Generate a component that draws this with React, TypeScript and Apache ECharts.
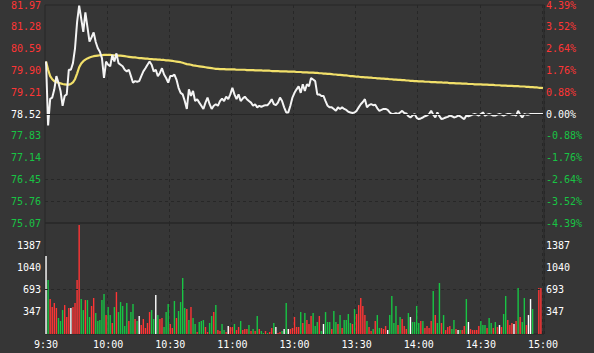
import React, { useEffect, useRef } from "react";
import * as echarts from "echarts";

const prevClose = 78.52;
const priceTicks = [75.07, 75.76, 76.45, 77.14, 77.83, 78.52, 79.21, 79.9, 80.59, 81.28, 81.97];
const pctTicks = [-4.39, -3.52, -2.64, -1.76, -0.88, 0, 0.88, 1.76, 2.64, 3.52, 4.39];
const volTicks = [347, 693, 1040, 1387];
const xTickLabels = ["9:30", "10:00", "10:30", "11:00", "13:00", "13:30", "14:00", "14:30", "15:00"];
const dashedPriceLevels = [76.45, 75.76];
const dashedVolLevels = [693];

const price = [
  80.18, 78.16, 79.0, 79.04, 79.3, 79.72, 79.51, 79.25, 78.78, 79.09,
  79.14, 79.92, 79.92, 80.13, 80.6, 81.43, 81.95, 81.53, 81.12, 81.74,
  81.27, 80.81, 80.95, 81.1, 80.8, 80.6, 80.49, 80.29, 79.66, 80.18,
  80.08, 80.03, 80.39, 80.18, 80.44, 80.13, 80.08, 80.03, 79.92, 79.87,
  79.92, 79.72, 79.51, 79.56, 79.54, 79.56, 79.72, 79.87, 79.97, 80.08,
  80.18, 80.08, 79.87, 79.92, 79.72, 79.82, 79.97, 79.77, 79.66, 79.51,
  79.72, 79.72, 79.77, 79.61, 79.35, 79.19, 79.14, 78.93, 78.68, 79.3,
  79.09, 79.25, 78.93, 78.99, 78.88, 78.78, 78.68, 78.88, 79.04, 78.83,
  78.68, 78.78, 78.83, 78.78, 78.93, 79.01, 78.93, 79.07, 78.99, 79.14,
  79.35, 79.14, 78.99, 79.14, 78.93, 79.01, 79.07, 78.99, 78.93, 78.88,
  78.78, 78.83, 78.73, 78.78, 78.75, 78.78, 78.8, 78.8, 78.88, 78.99,
  78.83, 78.8, 78.88, 79.04, 78.93, 78.73, 78.57, 78.57, 78.78, 79.04,
  79.19, 79.3, 79.4, 79.19, 79.46, 79.25, 79.46, 79.4, 79.66, 79.61,
  79.56, 79.14, 79.14, 79.09, 79.09, 78.93, 78.78, 78.73, 78.73, 78.68,
  78.62, 78.73, 78.68, 78.73, 78.68, 78.65, 78.59, 78.57, 78.55, 78.57,
  78.62, 78.73, 78.83, 78.9, 78.99, 78.73, 78.8, 78.83, 78.8, 78.81,
  78.7, 78.62, 78.65, 78.68, 78.68, 78.65, 78.57, 78.52, 78.52, 78.55,
  78.52, 78.57, 78.62, 78.55, 78.54, 78.45, 78.41, 78.47, 78.52, 78.4,
  78.36, 78.38, 78.41, 78.45, 78.47, 78.52, 78.62, 78.5, 78.41, 78.57,
  78.45, 78.36, 78.38, 78.41, 78.43, 78.47, 78.45, 78.41, 78.43, 78.47,
  78.45, 78.4, 78.36, 78.47, 78.45, 78.47, 78.5, 78.52, 78.5, 78.47,
  78.52, 78.57, 78.47, 78.5, 78.52, 78.5, 78.47, 78.47, 78.5, 78.52,
  78.5, 78.47, 78.5, 78.52, 78.52, 78.5, 78.5, 78.47, 78.62, 78.5,
  78.41, 78.52, 78.5, 78.5, 78.52, 78.52, 78.52, 78.52, 78.52, 78.52,
  78.52,
];

const avgPrice = [
  80.18, 79.92, 79.72, 79.62, 79.56, 79.53, 79.51, 79.49, 79.47, 79.46,
  79.45, 79.45, 79.47, 79.52, 79.62, 79.8, 80.0, 80.12, 80.19, 80.24,
  80.28, 80.31, 80.33, 80.35, 80.36, 80.37, 80.38, 80.38, 80.39, 80.39,
  80.39, 80.39, 80.38, 80.38, 80.38, 80.37, 80.37, 80.36, 80.35, 80.34,
  80.33, 80.32, 80.31, 80.31, 80.3, 80.29, 80.29, 80.28, 80.27, 80.27,
  80.26, 80.26, 80.25, 80.25, 80.24, 80.24, 80.23, 80.23, 80.22, 80.22,
  80.21, 80.2, 80.19, 80.18, 80.17, 80.16, 80.14, 80.12, 80.1, 80.09,
  80.08, 80.06, 80.05, 80.04, 80.03, 80.02, 80.01, 80.0, 79.99, 79.98,
  79.97, 79.96, 79.95, 79.95, 79.94, 79.94, 79.94, 79.93, 79.93, 79.93,
  79.93, 79.93, 79.92, 79.92, 79.92, 79.92, 79.92, 79.91, 79.91, 79.91,
  79.91, 79.9, 79.9, 79.9, 79.9, 79.89, 79.89, 79.89, 79.89, 79.88,
  79.88, 79.88, 79.88, 79.87, 79.87, 79.87, 79.87, 79.86, 79.86, 79.86,
  79.86, 79.85, 79.85, 79.85, 79.84, 79.84, 79.84, 79.83, 79.83, 79.83,
  79.82, 79.82, 79.81, 79.81, 79.8, 79.8, 79.79, 79.79, 79.78, 79.77,
  79.77, 79.76, 79.76, 79.75, 79.74, 79.74, 79.73, 79.72, 79.72, 79.71,
  79.7, 79.7, 79.69, 79.69, 79.68, 79.68, 79.67, 79.67, 79.66, 79.66,
  79.65, 79.65, 79.64, 79.64, 79.63, 79.63, 79.62, 79.62, 79.61, 79.61,
  79.6, 79.6, 79.59, 79.59, 79.58, 79.58, 79.57, 79.57, 79.56, 79.56,
  79.55, 79.55, 79.55, 79.54, 79.54, 79.54, 79.53, 79.53, 79.53, 79.52,
  79.52, 79.52, 79.51, 79.51, 79.51, 79.5, 79.5, 79.5, 79.49, 79.49,
  79.49, 79.48, 79.48, 79.48, 79.47, 79.47, 79.47, 79.46, 79.46, 79.46,
  79.46, 79.45, 79.45, 79.45, 79.44, 79.44, 79.44, 79.43, 79.43, 79.43,
  79.42, 79.42, 79.42, 79.41, 79.41, 79.41, 79.4, 79.4, 79.4, 79.39,
  79.39, 79.39, 79.38, 79.38, 79.37, 79.37, 79.36, 79.36, 79.35, 79.35,
  79.34,
];

const volume = [
  1217, 842, 546, 421, 484, 406, 250, 203, 374, 452,
  265, 406, 406, 421, 484, 842, 1700, 546, 374, 530,
  530, 265, 437, 562, 327, 203, 218, 530, 624, 296,
  421, 296, 172, 421, 655, 343, 499, 437, 125, 484,
  203, 343, 468, 234, 203, 281, 140, 234, 94, 172,
  343, 374, 234, 608, 296, 234, 250, 109, 343, 468,
  156, 94, 515, 250, 359, 499, 874, 406, 390, 218,
  421, 250, 156, 31, 187, 203, 218, 109, 31, 172,
  281, 343, 452, 62, 47, 156, 62, 31, 125, 109,
  109, 156, 62, 109, 203, 62, 78, 78, 140, 47,
  78, 47, 281, 78, 47, 16, 47, 16, 31, 94,
  172, 109, 16, 31, 47, 78, 484, 78, 78, 94,
  265, 109, 109, 343, 172, 327, 218, 156, 281, 327,
  125, 187, 281, 47, 156, 343, 187, 187, 78, 359,
  187, 156, 296, 94, 218, 218, 312, 172, 156, 390,
  312, 452, 562, 437, 296, 203, 109, 47, 78, 203,
  296, 94, 94, 78, 125, 62, 296, 593, 172, 437,
  140, 265, 234, 125, 78, 327, 265, 187, 187, 437,
  172, 203, 203, 94, 125, 94, 203, 671, 296, 172,
  796, 172, 296, 62, 109, 125, 78, 218, 78, 62,
  62, 62, 125, 546, 187, 78, 62, 62, 62, 125,
  203, 140, 140, 94, 250, 172, 94, 187, 109, 140,
  109, 312, 593, 218, 140, 172, 156, 203, 718, 265,
  187, 562, 140, 296, 546, 390, 0, 0, 718, 718,
  0,
];

// r = up (red), g = down (green), w = flat (white)
const volDir = (
  "wgrrrrgggr" + "rrwrrrrggr" + "ggrrgggggr" + "ggrgrggggg" + "rggrgwrrrr" +
  "rggwgrrggg" + "rrgrggggrg" + "rggrgggrrg" + "grgrrggrwr" + "rgrrgrrrgr" +
  "grgrggrgrr" + "gwrrgwgwrr" + "rrrgrgrrrg" + "ggrgwgggrg" + "grgrggggrg" +
  "rrrrrgrrgr" + "ggrrrwgggg" + "rgrrrgwggg" + "grgrrrrgrg" + "grgrrrggrw" +
  "grrgwrrrrr" + "gggrggrgrw" + "rggrrrwrgr" + "ggrwwgwwrr" + "w"
).split("");

const BG = "#363636";
const LINE = "#272727";
const RED = "#ff3535";
const GREEN = "#18c444";
const WHITE = "#ffffff";
const YELLOW = "#f2e06a";
const FONT = "DejaVu Sans Mono";

function pad(n: number) {
  return n < 10 ? "0" + n : String(n);
}

export default function App() {
  const ref = useRef<HTMLDivElement>(null);

  useEffect(() => {
    if (!ref.current) return;
    const chart = echarts.init(ref.current, undefined, { renderer: "svg" });

    const cats = price.map((_, i) => {
      const t = i <= 120 ? 9 * 60 + 30 + i : 13 * 60 + (i - 120);
      return Math.floor(t / 60) + ":" + pad(t % 60);
    });

    const dirColor: Record<string, string> = { r: RED, g: GREEN, w: WHITE };

    const priceColor = (v: any) => {
      const n = Number(v);
      if (Math.abs(n - prevClose) < 0.001) return WHITE;
      return n > prevClose ? RED : GREEN;
    };
    const pctColor = (v: any) => {
      const n = Number(v);
      if (Math.abs(n) < 0.001) return WHITE;
      return n > 0 ? RED : GREEN;
    };

    const splitX = {
      show: true,
      interval: (i: number) => i > 0 && i % 30 === 0,
      lineStyle: { color: LINE, type: [3, 3] as any, width: 1 },
    };

    const option: any = {
      animation: false,
      backgroundColor: BG,
      grid: [
        { left: 45, right: 50, top: 3, height: 220, show: true, borderColor: LINE, borderWidth: 1, backgroundColor: "transparent" },
        { left: 45, right: 50, top: 223, height: 111, show: true, borderColor: LINE, borderWidth: 1, backgroundColor: "transparent" },
      ],
      xAxis: [
        {
          type: "category",
          gridIndex: 0,
          data: cats,
          boundaryGap: true,
          axisLine: { show: false },
          axisTick: { show: false },
          axisLabel: { show: false },
          splitLine: splitX,
        },
        {
          type: "category",
          gridIndex: 1,
          data: cats,
          boundaryGap: true,
          axisLine: { show: false },
          axisTick: { show: false },
          axisLabel: {
            show: true,
            interval: (i: number) => i % 30 === 0,
            formatter: (_v: string, i: number) => xTickLabels[Math.round(i / 30)] ?? "",
            color: WHITE,
            fontFamily: FONT,
            fontSize: 10,
            margin: 5,
          },
          splitLine: splitX,
        },
      ],
      yAxis: [
        {
          type: "value",
          gridIndex: 0,
          position: "left",
          min: priceTicks[0],
          max: priceTicks[priceTicks.length - 1],
          axisLine: { show: false },
          axisTick: { show: false },
          splitLine: { show: false },
          axisLabel: {
            customValues: priceTicks,
            formatter: (v: number) => Number(v).toFixed(2),
            color: priceColor,
            fontFamily: FONT,
            fontSize: 10,
            margin: 4,
          },
        },
        {
          type: "value",
          gridIndex: 0,
          position: "right",
          min: pctTicks[0],
          max: pctTicks[pctTicks.length - 1],
          axisLine: { show: false },
          axisTick: { show: false },
          splitLine: { show: false },
          axisLabel: {
            customValues: pctTicks,
            formatter: (v: number) => Number(v).toFixed(2) + "%",
            color: pctColor,
            fontFamily: FONT,
            fontSize: 10,
            margin: 2,
          },
        },
        {
          type: "value",
          gridIndex: 1,
          position: "left",
          min: 0,
          max: 1733,
          axisLine: { show: false },
          axisTick: { show: false },
          splitLine: { show: false },
          axisLabel: {
            customValues: volTicks,
            formatter: (v: number) => String(v),
            color: WHITE,
            fontFamily: FONT,
            fontSize: 10,
            margin: 4,
          },
        },
        {
          type: "value",
          gridIndex: 1,
          position: "right",
          min: 0,
          max: 1733,
          axisLine: { show: false },
          axisTick: { show: false },
          splitLine: { show: false },
          axisLabel: {
            customValues: volTicks,
            formatter: (v: number) => String(v),
            color: WHITE,
            fontFamily: FONT,
            fontSize: 10,
            margin: 2,
          },
        },
      ],
      series: [
        {
          name: "grid-lines",
          type: "line",
          xAxisIndex: 0,
          yAxisIndex: 0,
          data: [],
          silent: true,
          markLine: {
            silent: true,
            symbol: ["none", "none"],
            label: { show: false },
            animation: false,
            data: [
              ...dashedPriceLevels.map((v) => ({ yAxis: v, lineStyle: { color: LINE, type: [3, 3], width: 1 } })),
              { yAxis: prevClose, lineStyle: { color: LINE, type: "solid", width: 1 } },
            ],
          },
        },
        {
          name: "avg",
          type: "line",
          xAxisIndex: 0,
          yAxisIndex: 0,
          data: avgPrice,
          showSymbol: false,
          symbol: "none",
          lineStyle: { color: YELLOW, width: 2.2 },
          z: 3,
        },
        {
          name: "price",
          type: "line",
          xAxisIndex: 0,
          yAxisIndex: 0,
          data: price,
          showSymbol: false,
          symbol: "none",
          lineStyle: { color: "#f4f4f4", width: 2 },
          z: 4,
        },
        {
          name: "volume",
          type: "bar",
          xAxisIndex: 1,
          yAxisIndex: 2,
          barWidth: 1.4,
          data: volume.map((v, i) => ({ value: v, itemStyle: { color: dirColor[volDir[i]] || WHITE } })),
          markLine: {
            silent: true,
            symbol: ["none", "none"],
            label: { show: false },
            animation: false,
            data: dashedVolLevels.map((v) => ({ yAxis: v, lineStyle: { color: LINE, type: [3, 3], width: 1 } })),
          },
        },
      ],
    };

    chart.setOption(option);
    return () => chart.dispose();
  }, []);

  return (
    <div
      ref={ref}
      style={{ position: "absolute", left: 0, top: 0, width: 594, height: 353 }}
    />
  );
}
